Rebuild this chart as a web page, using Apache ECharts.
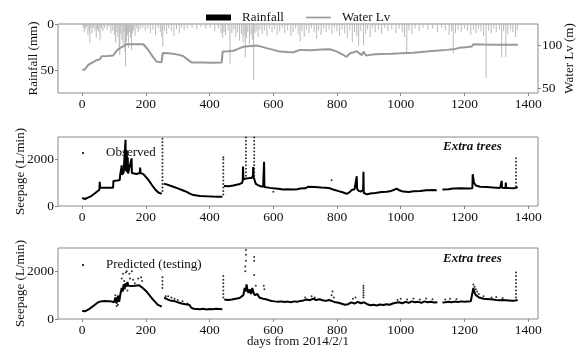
<!DOCTYPE html>
<html><head><meta charset="utf-8">
<script src="https://cdn.jsdelivr.net/npm/echarts@6/dist/echarts.min.js"></script>
<style>html,body{margin:0;padding:0;background:#fff}#c{width:576px;height:351px}</style>
</head><body><div id="c"></div>
<script>
// ---- data ----
const xTicks = [0,200,400,600,800,1000,1200,1400];
const rainTicks = [0,50];
const levelTicks = [50,100];
const seepTicks = [0,2000];

// rainfall [day, mm]
const rainfall = [[3,4],[6,9],[10,6],[14,3],[18,12],[22,8],[24,21],[27,5],[31,10],[35,4],[40,7],[44,15],[48,6],[52,9],[56,18],[60,5],[65,8],[70,4],[78,6],[84,3],[90,10],[96,7],[101,12],[105,20],[109,9],[112,14],[116,25],[118,34],[121,11],[125,17],[128,22],[131,8],[134,30],[136,46],[139,19],[142,12],[145,26],[148,9],[152,15],[155,28],[158,10],[162,7],[166,13],[171,5],[176,9],[182,6],[190,4],[198,8],[206,5],[214,10],[222,6],[230,12],[238,4],[245,9],[250,14],[253,25],[258,7],[265,11],[272,5],[280,8],[288,13],[296,6],[305,10],[312,4],[320,7],[330,5],[345,4],[360,6],[372,3],[388,5],[402,4],[416,8],[428,5],[436,10],[441,15],[445,9],[450,12],[458,7],[464,43],[470,10],[476,6],[482,14],[488,9],[494,18],[500,11],[505,20],[508,13],[512,36],[516,15],[520,9],[525,22],[530,12],[534,17],[538,61],[542,10],[546,8],[552,14],[558,6],[565,11],[572,7],[580,13],[588,5],[596,9],[604,6],[612,12],[620,8],[628,4],[636,10],[645,7],[655,13],[662,9],[670,5],[678,11],[684,19],[690,8],[697,14],[704,6],[712,10],[720,4],[728,9],[736,16],[742,7],[750,12],[758,5],[766,9],[775,6],[784,11],[792,4],[800,8],[808,13],[816,6],[824,10],[832,15],[840,7],[848,20],[855,9],[862,13],[868,24],[875,8],[883,23],[890,11],[896,6],[904,14],[912,5],[920,9],[930,6],[940,11],[950,4],[960,8],[972,6],[985,10],[995,5],[1005,9],[1012,14],[1019,32],[1026,7],[1035,11],[1045,5],[1058,8],[1070,4],[1085,6],[1100,5],[1115,9],[1128,4],[1140,7],[1152,12],[1160,8],[1165,32],[1172,10],[1180,6],[1190,9],[1200,5],[1210,8],[1220,12],[1228,6],[1236,10],[1244,5],[1252,8],[1260,13],[1268,59],[1276,7],[1284,10],[1292,5],[1300,9],[1310,6],[1317,36],[1323,8],[1330,36],[1336,11],[1345,6],[1352,9],[1360,14],[1366,7]];

// water level [day, m]
const waterLv = [[0,72],[8,72],[12,74],[19,77.5],[30,80],[45,83],[55,84],[61,87.5],[80,88],[97,88.5],[102,91],[108,94],[118,97],[129,99],[137,101.5],[160,101.5],[192,101.5],[205,96],[220,88],[233,81.5],[249,80.5],[252,81],[253,91.5],[270,91],[286,90.5],[300,89.5],[317,88],[330,84],[343,80.5],[380,80.5],[410,80],[438,80.5],[440,81],[441,93],[460,93.5],[474,94],[485,95.5],[495,97],[505,98.5],[511,100],[548,100],[565,98.5],[579,97],[600,95],[621,93],[645,92.5],[663,92.2],[684,95],[720,94.5],[750,95.5],[778,95.7],[800,93],[815,90],[830,87],[836,88],[841,91],[850,92],[862,93.5],[870,91],[878,89],[883,93],[891,88.5],[910,89.5],[935,90.3],[970,90.5],[1000,91],[1040,91.8],[1080,93],[1110,94],[1145,95],[1170,96],[1186,97.6],[1210,98.3],[1223,98.8],[1228,101.5],[1260,101.2],[1300,101],[1340,100.8],[1368,100.8]];

// observed seepage [day, L/min]
const observed = [[0,350],[4,320],[8,300],[12,320],[18,360],[24,400],[30,440],[36,500],[42,570],[48,640],[54,700],[55,1040],[56,790],[70,790],[85,790],[97,790],[98,1080],[110,1100],[118,1120],[119,1320],[122,1350],[124,1750],[125,1350],[130,1450],[135,1500],[136,2850],[137,1500],[139,1450],[140,2400],[141,1450],[143,2100],[144,1400],[150,1400],[155,2050],[156,1420],[160,1390],[170,1380],[181,1420],[182,1650],[183,1420],[192,1370],[200,1250],[210,1080],[220,880],[230,700],[239,580],[245,530],[250,520],null,
[256,960],[265,930],[275,880],[286,830],[300,760],[315,680],[328,610],[338,530],[349,470],[370,430],[391,415],[410,405],[425,400],[440,400],null,
[445,860],[460,850],[474,880],[480,940],[495,950],[502,1000],[504,1110],[505,1700],[506,1150],[510,1150],[515,1180],[525,1200],[532,1200],[536,1300],[537,1680],[538,1250],[541,1200],[545,950],[552,900],[560,850],[568,830],[571,1900],[572,820],[590,780],[600,760],[615,740],[631,715],[645,720],[662,710],[675,720],[684,750],[700,760],[710,830],[730,820],[750,800],[765,790],[778,760],[790,700],[805,640],[820,580],[830,520],[840,600],[846,690],[855,720],[861,760],[862,1280],[863,740],[868,650],[875,620],[882,700],[883,1470],[884,560],[888,520],[895,500],[904,540],[920,560],[940,600],[956,610],[970,650],[980,700],[987,750],[995,680],[1008,620],[1025,600],[1040,630],[1061,650],[1080,680],[1100,690],[1113,680],null,
[1131,710],[1150,720],[1165,750],[1190,760],[1210,750],[1225,760],[1226,1370],[1230,1000],[1236,880],[1249,830],[1270,820],[1290,800],[1312,780],[1316,790],[1317,1080],[1318,790],[1329,780],[1330,1010],[1331,780],[1340,770],[1354,760],[1362,780],[1367,820]];

// observed readings on spike days [day, L/min]
const observedSpikes = [[252,650],[252,800],[252,950],[252,1100],[252,1250],[252,1400],[252,1550],[252,1700],[252,1850],[252,2000],[252,2150],[252,2300],[252,2450],[252,2600],[252,2750],[252,2900],
[443,500],[443,650],[443,800],[443,950],[443,1100],[443,1250],[443,1400],[443,1550],[443,1700],[443,1850],[443,2000],[443,2100],
[514,1300],[514,1450],[514,1600],[514,1750],[514,1900],[514,2050],[514,2200],[514,2350],[514,2500],[514,2650],[514,2800],[514,2950],
[540,1300],[540,1450],[540,1600],[540,1750],[540,1900],[540,2050],[540,2200],[540,2350],[540,2500],[540,2650],[540,2800],[540,2950],
[1362,850],[1362,1000],[1362,1150],[1362,1300],[1362,1450],[1362,1600],[1362,1750],[1362,1900],[1362,2050],
[783,1110],[600,614]];

// predicted seepage (testing) [day, L/min]
const predicted = [[0,340],[10,330],[20,400],[30,500],[40,600],[50,700],[58,740],[70,760],[80,750],[90,740],[100,700],[104,900],[108,650],[112,980],[116,720],[120,1050],[124,1300],[127,1150],[130,1450],[133,1250],[136,1500],[139,1350],[142,1550],[145,1400],[150,1450],[155,1380],[160,1420],[166,1400],[172,1350],[178,1420],[184,1380],[190,1300],[196,1250],[202,1150],[208,1050],[214,950],[220,850],[226,760],[232,680],[238,590],[244,530],[250,520],null,
[257,900],[262,860],[268,820],[272,900],[276,780],[282,850],[288,760],[294,800],[300,700],[306,760],[312,650],[318,700],[324,620],[330,580],[336,600],[342,480],[350,430],[360,420],[370,410],[380,430],[390,400],[400,420],[410,410],[420,430],[430,420],[440,410],null,
[446,820],[452,860],[458,800],[464,880],[470,820],[476,900],[482,850],[488,930],[494,880],[500,950],[506,1000],[510,1300],[513,1150],[516,1450],[519,1200],[522,1100],[526,1250],[530,1050],[534,1300],[538,1100],[542,1000],[546,950],[550,1050],[556,900],[562,950],[568,850],[574,900],[580,820],[588,780],[596,760],[605,740],[615,720],[625,740],[635,710],[645,730],[655,700],[665,740],[675,720],[685,760],[695,780],[705,820],[715,790],[725,850],[735,800],[745,830],[755,790],[765,760],[775,800],[785,750],[795,700],[805,680],[815,640],[825,600],[835,620],[845,700],[855,650],[865,720],[875,660],[885,700],[895,620],[905,580],[915,600],[925,570],[935,610],[945,590],[955,620],[965,600],[975,650],[985,680],[995,700],[1005,660],[1015,720],[1025,680],[1035,740],[1045,700],[1055,720],[1065,680],[1075,740],[1085,700],[1095,720],[1105,690],[1115,700],null,
[1131,690],[1140,700],[1150,720],[1160,700],[1170,730],[1180,710],[1190,740],[1200,720],[1210,730],[1220,740],[1228,1300],[1232,1100],[1236,1000],[1240,950],[1246,900],[1252,870],[1260,850],[1270,840],[1280,830],[1290,820],[1300,800],[1310,790],[1320,800],[1330,790],[1340,780],[1350,770],[1360,780],[1367,800]];

const predictedPoints = [[104,1000],[108,550],[112,600],[116,950],[124,1700],[128,1900],[132,1600],[137,1950],[140,2000],[142,1200],[148,1900],[150,1700],[156,2000],[160,1650],[165,1500],[176,1700],[185,1750],[188,1600],[252,1300],[252,1450],[252,1600],[252,1750],[262,950],[270,950],[280,900],[290,850],[300,800],[315,750],[330,650],[443,900],[443,1050],[443,1200],[443,1350],[443,1500],[443,1650],[443,1800],[512,2000],[512,2200],[514,2450],[514,2700],[514,2900],[540,2600],[540,2450],[540,1850],[545,1400],[570,1400],[572,1250],[700,900],[720,950],[730,900],[783,1000],[786,1150],[790,900],[850,850],[858,900],[883,900],[883,1000],[883,1100],[883,1200],[883,1300],[883,1400],[990,800],[1000,850],[1020,820],[1040,860],[1060,820],[1080,860],[1100,830],[1140,820],[1155,850],[1175,840],[1228,1450],[1232,1350],[1236,1250],[1240,1150],[1245,1050],[1260,950],[1285,900],[1300,920],[1320,880],[1362,900],[1362,1050],[1362,1200],[1362,1350],[1362,1500],[1362,1650],[1362,1800],[1362,1950]];

// ---- chart ----
const FONT = 'Liberation Serif';
const TXT = '#111';
const FRAME = '#8a8a8a';
const XMIN = -76, XMAX = 1431;
const plain = v => String(v);

function labelStyle(vals) {
  return {fontFamily: FONT, fontSize: 13.5, color: TXT, margin: 4, customValues: vals, formatter: plain};
}
function tickStyle(vals) {
  return {show: true, length: 3, lineStyle: {color: FRAME}, customValues: vals};
}
function xAxis(idx, withName) {
  return {
    type: 'value', gridIndex: idx, min: XMIN, max: XMAX, position: 'bottom',
    splitLine: {show: false},
    axisLine: {show: false, onZero: false},
    axisTick: tickStyle(xTicks),
    axisLabel: labelStyle(xTicks),
    name: withName ? 'days from 2014/2/1' : '',
    nameLocation: 'middle', nameGap: 16, nameMoveOverlap: false,
    nameTextStyle: {fontFamily: FONT, fontSize: 13, color: TXT}
  };
}
function yAxis(extra, vals) {
  return Object.assign({
    type: 'value', splitLine: {show: false},
    axisLine: {show: false, onZero: false},
    axisTick: tickStyle(vals),
    axisLabel: labelStyle(vals),
    nameLocation: 'middle', nameRotate: 90, nameMoveOverlap: false,
    nameTextStyle: {fontFamily: FONT, fontSize: 13, color: TXT}
  }, extra);
}
function grid(top, height) {
  return {left: 58, top: top, width: 480, height: height, show: true, borderColor: FRAME, borderWidth: 1,
    backgroundColor: 'transparent', containLabel: false, outerBoundsMode: 'none'};
}

const chart = echarts.init(document.getElementById('c'), null, {renderer: 'canvas'});
chart.setOption({
  backgroundColor: '#fff',
  animation: false,
  textStyle: {fontFamily: FONT},
  legend: {
    left: 201, top: 6, itemWidth: 25, itemHeight: 6, itemGap: 22,
    textStyle: {fontFamily: FONT, fontSize: 13, color: TXT, padding: [0,0,0,6]},
    data: [
      {name: 'Rainfall', icon: 'rect', itemStyle: {color: '#000'}},
      {name: 'Water Lv', icon: 'path://M0,0L30,0L30,2L0,2Z', itemStyle: {color: '#999'}}
    ]
  },
  grid: [grid(24, 69), grid(137, 69), grid(248, 71)],
  xAxis: [xAxis(0, false), xAxis(1, false), xAxis(2, true)],
  yAxis: [
    yAxis({gridIndex: 0, min: 0, max: 75, inverse: true, position: 'left', name: 'Rainfall (mm)', nameGap: 18}, rainTicks),
    yAxis({gridIndex: 0, min: 45, max: 125, position: 'right', name: 'Water Lv (m)', nameGap: 25}, levelTicks),
    yAxis({gridIndex: 1, min: 0, max: 2970, position: 'left', name: 'Seepage (L/min)', nameGap: 31}, seepTicks),
    yAxis({gridIndex: 2, min: 0, max: 2980, position: 'left', name: 'Seepage (L/min)', nameGap: 31}, seepTicks)
  ],
  series: [
    {name: 'Rainfall', type: 'bar', xAxisIndex: 0, yAxisIndex: 0, data: rainfall, barWidth: 1,
      itemStyle: {color: '#bababa'}, z: 1},
    {name: 'Water Lv', type: 'line', xAxisIndex: 0, yAxisIndex: 1, data: waterLv, showSymbol: false, symbol: 'none',
      lineStyle: {color: '#999', width: 2}, itemStyle: {color: '#999'}, z: 3},
    {name: 'Observed', type: 'line', xAxisIndex: 1, yAxisIndex: 2, data: observed, showSymbol: false, symbol: 'none',
      connectNulls: false, lineStyle: {color: '#000', width: 2}},
    {name: 'Observed spikes', type: 'scatter', xAxisIndex: 1, yAxisIndex: 2, data: observedSpikes, symbolSize: 2,
      itemStyle: {color: '#000'}},
    {name: 'Predicted', type: 'line', xAxisIndex: 2, yAxisIndex: 3, data: predicted, showSymbol: false, symbol: 'none',
      connectNulls: false, lineStyle: {color: '#000', width: 2}},
    {name: 'Predicted points', type: 'scatter', xAxisIndex: 2, yAxisIndex: 3, data: predictedPoints, symbolSize: 2,
      itemStyle: {color: '#000'}}
  ],
  graphic: [
    {type: 'circle', x: 83, y: 153, shape: {cx: 0, cy: 0, r: 1.1}, style: {fill: '#000'}},
    {type: 'text', x: 106, y: 146, style: {text: 'Observed', fontFamily: FONT, fontSize: 13, fill: TXT}},
    {type: 'text', x: 443, y: 140, style: {text: 'Extra trees', fontFamily: FONT, fontSize: 13, fontWeight: 'bold', fontStyle: 'italic', fill: TXT}},
    {type: 'circle', x: 83, y: 265, shape: {cx: 0, cy: 0, r: 1.1}, style: {fill: '#000'}},
    {type: 'text', x: 106, y: 258, style: {text: 'Predicted (testing)', fontFamily: FONT, fontSize: 13, fill: TXT}},
    {type: 'text', x: 443, y: 252, style: {text: 'Extra trees', fontFamily: FONT, fontSize: 13, fontWeight: 'bold', fontStyle: 'italic', fill: TXT}}
  ]
});
</script></body></html>
